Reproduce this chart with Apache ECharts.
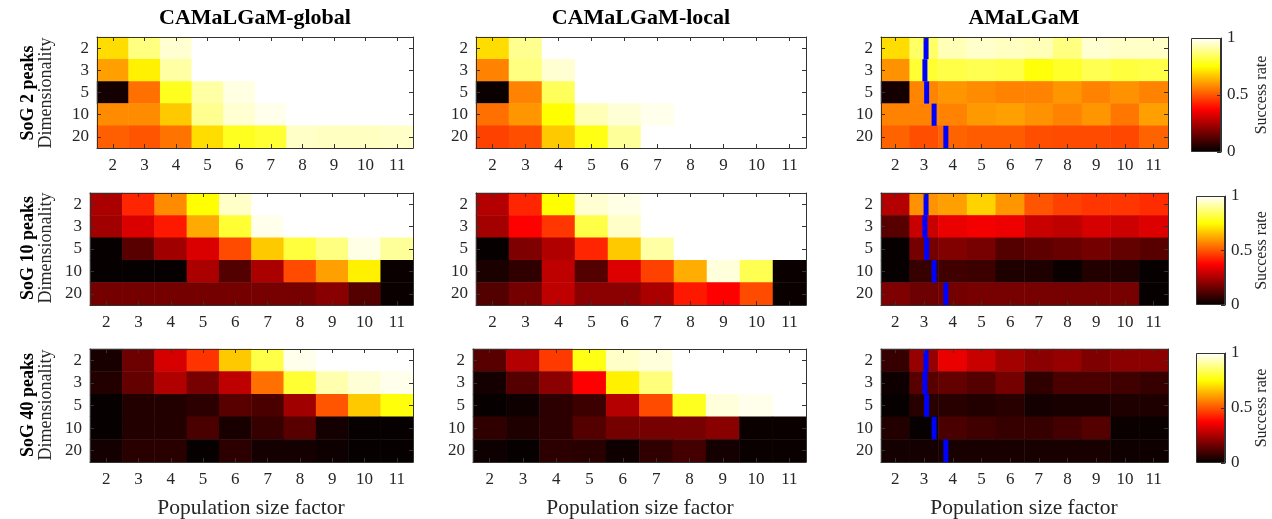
<!DOCTYPE html>
<html><head><meta charset="utf-8">
<script src="https://cdn.jsdelivr.net/npm/echarts@6/dist/echarts.min.js"></script>
<style>html,body{margin:0;padding:0;background:#fff}#c{width:1272px;height:519px}</style>
</head><body><div id="c"></div>
<script>
// ---------- data ----------
const popFactors = ['2','3','4','5','6','7','8','9','10','11'];
const dims = ['2','3','5','10','20'];
const methods = ['CAMaLGaM-global','CAMaLGaM-local','AMaLGaM'];
const problems = ['SoG 2 peaks','SoG 10 peaks','SoG 40 peaks'];
const colorbarTicks = [0, 0.5, 1];
// success rates, rows = dimensionality (2,3,5,10,20), cols = population size factor (2..11)
const global2 = [
 [0.70,0.875,0.955,1,1,1,1,1,1,1],
 [0.61,0.73,0.91,1,1,1,1,1,1,1],
 [0.03,0.54,0.78,0.91,0.97,1,1,1,1,1],
 [0.58,0.58,0.67,0.89,0.955,0.98,1,1,1,1],
 [0.515,0.50,0.545,0.70,0.78,0.80,0.945,0.94,0.94,0.945]
];
const local2 = [
 [0.70,0.89,1,1,1,1,1,1,1,1],
 [0.566,0.875,0.955,1,1,1,1,1,1,1],
 [0.015,0.566,0.84,1,1,1,1,1,1,1],
 [0.54,0.595,0.75,0.93,0.96,0.98,1,1,1,1],
 [0.47,0.49,0.67,0.77,0.90,1,1,1,1,1]
];
const amalgam2 = [
 [0.70,0.85,0.93,0.95,0.94,0.93,0.875,0.955,0.945,0.945],
 [0.59,0.80,0.82,0.83,0.82,0.76,0.79,0.83,0.81,0.82],
 [0.03,0.57,0.595,0.58,0.566,0.566,0.595,0.566,0.59,0.566],
 [0.566,0.566,0.566,0.60,0.61,0.59,0.566,0.595,0.55,0.61],
 [0.52,0.49,0.52,0.51,0.51,0.49,0.485,0.485,0.48,0.52]
];
const global10 = [
 [0.25,0.43,0.58,0.75,0.945,1,1,1,1,1],
 [0.235,0.32,0.41,0.625,0.80,0.98,1,1,1,1],
 [0.01,0.13,0.235,0.32,0.485,0.67,0.81,0.875,0.975,0.90],
 [0.01,0.01,0.01,0.25,0.12,0.25,0.485,0.61,0.73,0.015],
 [0.17,0.17,0.17,0.17,0.17,0.175,0.175,0.20,0.125,0.015]
];
const local10 = [
 [0.265,0.43,0.75,0.955,0.975,1,1,1,1,1],
 [0.24,0.375,0.455,0.82,0.945,1,1,1,1,1],
 [0.01,0.185,0.26,0.43,0.67,0.91,1,1,1,1],
 [0.04,0.07,0.28,0.12,0.325,0.47,0.63,0.965,0.83,0.015],
 [0.12,0.17,0.28,0.205,0.205,0.25,0.41,0.375,0.485,0.015]
];
const amalgam10 = [
 [0.265,0.59,0.61,0.685,0.595,0.50,0.47,0.455,0.455,0.44],
 [0.13,0.295,0.345,0.36,0.35,0.295,0.28,0.315,0.30,0.325],
 [0.01,0.17,0.19,0.175,0.125,0.14,0.155,0.17,0.145,0.13],
 [0.01,0.08,0.095,0.09,0.045,0.045,0.015,0.05,0.045,0.01],
 [0.185,0.16,0.17,0.175,0.175,0.175,0.175,0.175,0.175,0.01]
];
const global40 = [
 [0.035,0.16,0.315,0.45,0.67,0.82,0.98,1,1,1],
 [0.05,0.145,0.26,0.175,0.28,0.54,0.80,0.92,0.96,0.98],
 [0.01,0.05,0.05,0.065,0.13,0.11,0.235,0.50,0.67,0.76],
 [0.01,0.05,0.05,0.11,0.035,0.08,0.13,0.03,0.01,0.01],
 [0.03,0.06,0.06,0.01,0.065,0.03,0.03,0.02,0.01,0.01]
];
const local40 = [
 [0.13,0.265,0.46,0.77,0.945,0.965,1,1,1,1],
 [0.03,0.125,0.205,0.375,0.73,0.87,1,1,1,1],
 [0.01,0.02,0.065,0.09,0.265,0.485,0.78,0.965,0.98,1],
 [0.07,0.045,0.065,0.125,0.17,0.175,0.175,0.20,0.015,0.015],
 [0.02,0.01,0.065,0.06,0.02,0.07,0.10,0.03,0.015,0.015]
];
const amalgam40 = [
 [0.08,0.22,0.345,0.295,0.24,0.205,0.22,0.185,0.205,0.205],
 [0.02,0.13,0.145,0.125,0.17,0.07,0.11,0.11,0.095,0.08],
 [0.01,0.06,0.06,0.05,0.06,0.03,0.035,0.035,0.045,0.045],
 [0.05,0.01,0.11,0.095,0.08,0.08,0.10,0.125,0.015,0.015],
 [0.03,0.03,0.035,0.035,0.035,0.035,0.035,0.035,0.02,0.02]
];
// AMaLGaM minimal population size marker (population size factor), per dimensionality row
const minPopLine = [3.07, 3.03, 3.09, 3.35, 3.76];

// ---------- layout / style ----------
const panels = [[global2, local2, amalgam2],[global10, local10, amalgam10],[global40, local40, amalgam40]];
const gridBoxes = [
 [[97,37,316,111],[476,37,330,111],[881,37,287,111]],
 [[90,193,323,112],[476,193,330,112],[881,193,287,112]],
 [[90,349,323,113],[473,349,333,113],[881,349,287,113]]
];
const cbBoxes = [[1191,38,30,114],[1196,196,29,109],[1196,353,29,110]];
const hot = ['#000000','#550000','#aa0000','#ff0000','#ff5500','#ffaa00','#ffff00','#ffff80','#ffffff'];
const FONT = '"Liberation Serif","Times New Roman",serif';
const AX = '#333';
const TXT = '#262626';

const grid = [], xAxis = [], yAxis = [], series = [], heatIdx = [];
const popVals = popFactors.map(Number);
const rowIdx = dims.map((d,i)=>i);

function addAxes(gi){
  xAxis.push({gridIndex:gi, type:'category', data:popFactors, position:'bottom', z:5,
    axisLine:{show:true, onZero:false, lineStyle:{color:AX, width:1}},
    axisTick:{show:true, inside:true, alignWithLabel:true, length:4, lineStyle:{color:AX}},
    axisLabel:{fontFamily:FONT, fontSize:17, color:TXT, margin:9},
    splitLine:{show:false}});
  xAxis.push({gridIndex:gi, type:'value', min:1.5, max:11.5, position:'top', z:5,
    axisLine:{show:true, onZero:false, lineStyle:{color:AX, width:1}},
    axisTick:{show:true, inside:true, length:4, customValues:popVals, lineStyle:{color:AX}},
    axisLabel:{show:false}, splitLine:{show:false}});
  yAxis.push({gridIndex:gi, type:'category', data:dims, inverse:true, position:'left', z:5,
    axisLine:{show:true, onZero:false, lineStyle:{color:AX, width:1}},
    axisTick:{show:true, inside:true, alignWithLabel:true, length:4, lineStyle:{color:AX}},
    axisLabel:{fontFamily:FONT, fontSize:17, color:TXT, margin:8},
    splitLine:{show:false}});
  yAxis.push({gridIndex:gi, type:'value', min:-0.5, max:4.5, inverse:true, position:'right', z:5,
    axisLine:{show:true, onZero:false, lineStyle:{color:AX, width:1}},
    axisTick:{show:true, inside:true, length:4, customValues:rowIdx, lineStyle:{color:AX}},
    axisLabel:{show:false}, splitLine:{show:false}});
}

let gi = 0;
for (let r=0;r<3;r++){
  for (let c=0;c<3;c++){
    const b = gridBoxes[r][c];
    grid.push({left:b[0], top:b[1], width:b[2], height:b[3], containLabel:false});
    addAxes(gi);
    const arr = panels[r][c];
    const data = [];
    arr.forEach((row, yi)=> row.forEach((v, xi)=> data.push([xi, yi, v])));
    heatIdx.push(series.length);
    series.push({type:'heatmap', xAxisIndex:2*gi, yAxisIndex:2*gi, data, z:2,
      emphasis:{disabled:true}, itemStyle:{borderWidth:0}});
    if (c===2){
      series.push({type:'custom', xAxisIndex:2*gi+1, yAxisIndex:2*gi+1, z:4,
        data: minPopLine.map((x,i)=>[x,i]),
        encode:{x:0, y:1},
        renderItem:(params, api)=>{
          const x = api.value(0), i = api.value(1);
          const p0 = api.coord([x, i-0.5]), p1 = api.coord([x, i+0.5]);
          return {type:'rect', shape:{x:p0[0]-2.5, y:Math.min(p0[1],p1[1]), width:5, height:Math.abs(p1[1]-p0[1])},
            style:{fill:'#0000ff'}};
        }});
    }
    gi++;
  }
}
// colorbars
for (let r=0;r<3;r++){
  const b = cbBoxes[r];
  grid.push({left:b[0], top:b[1], width:b[2], height:b[3]});
  xAxis.push({gridIndex:gi, type:'category', data:[''], show:false});
  yAxis.push({gridIndex:gi, type:'value', min:colorbarTicks[0], max:colorbarTicks[2], interval:colorbarTicks[1], position:'right', z:5,
    axisLine:{show:true, onZero:false, lineStyle:{color:AX}},
    axisTick:{show:true, inside:true, length:4, lineStyle:{color:AX}},
    axisLabel:{fontFamily:FONT, fontSize:17, color:TXT, margin:6, formatter:v=>String(v)},
    splitLine:{show:false}});
  series.push({type:'bar', xAxisIndex:xAxis.length-1, yAxisIndex:yAxis.length-1, data:[colorbarTicks[2]],
    barWidth:'100%', barCategoryGap:'0%', silent:true,
    itemStyle:{borderColor:AX, borderWidth:1,
      color:{type:'linear', x:0, y:1, x2:0, y2:0,
        colorStops:hot.map((col,i)=>({offset:i/(hot.length-1), color:col}))}}});
  gi++;
}

// text
const graphic = [];
const colCenters = [255, 641, 1024];
methods.forEach((m,i)=>graphic.push({type:'text', x:colCenters[i], y:18,
  style:{text:m, font:'bold 22px '+FONT, fill:'#000', align:'center', verticalAlign:'middle', textAlign:'center', textVerticalAlign:'middle'}}));
const xlabCenters = [251, 640, 1024];
xlabCenters.forEach(x=>graphic.push({type:'text', x:x, y:508,
  style:{text:'Population size factor', font:'21.5px '+FONT, fill:TXT, align:'center', verticalAlign:'middle', textAlign:'center', textVerticalAlign:'middle'}}));
const rowCenters = [93, 248, 405];
problems.forEach((p,i)=>{
  graphic.push({type:'text', x:28, y:rowCenters[i], rotation:Math.PI/2,
    style:{text:p, font:'bold 18px '+FONT, fill:'#000', align:'center', verticalAlign:'middle', textAlign:'center', textVerticalAlign:'middle'}});
  graphic.push({type:'text', x:46, y:rowCenters[i], rotation:Math.PI/2,
    style:{text:'Dimensionality', font:'18px '+FONT, fill:TXT, align:'center', verticalAlign:'middle', textAlign:'center', textVerticalAlign:'middle'}});
  graphic.push({type:'text', x:1262, y:cbBoxes[i][1]+cbBoxes[i][3]/2, rotation:Math.PI/2,
    style:{text:'Success rate', font:'16px '+FONT, fill:TXT, align:'center', verticalAlign:'middle', textAlign:'center', textVerticalAlign:'middle'}});
});

const chart = echarts.init(document.getElementById('c'), null, {renderer:'canvas'});
chart.setOption({
  animation:false,
  backgroundColor:'#fff',
  grid, xAxis, yAxis, series, graphic,
  visualMap:[{type:'continuous', show:false, min:0, max:1, seriesIndex:heatIdx, inRange:{color:hot}}]
});
</script></body></html>
